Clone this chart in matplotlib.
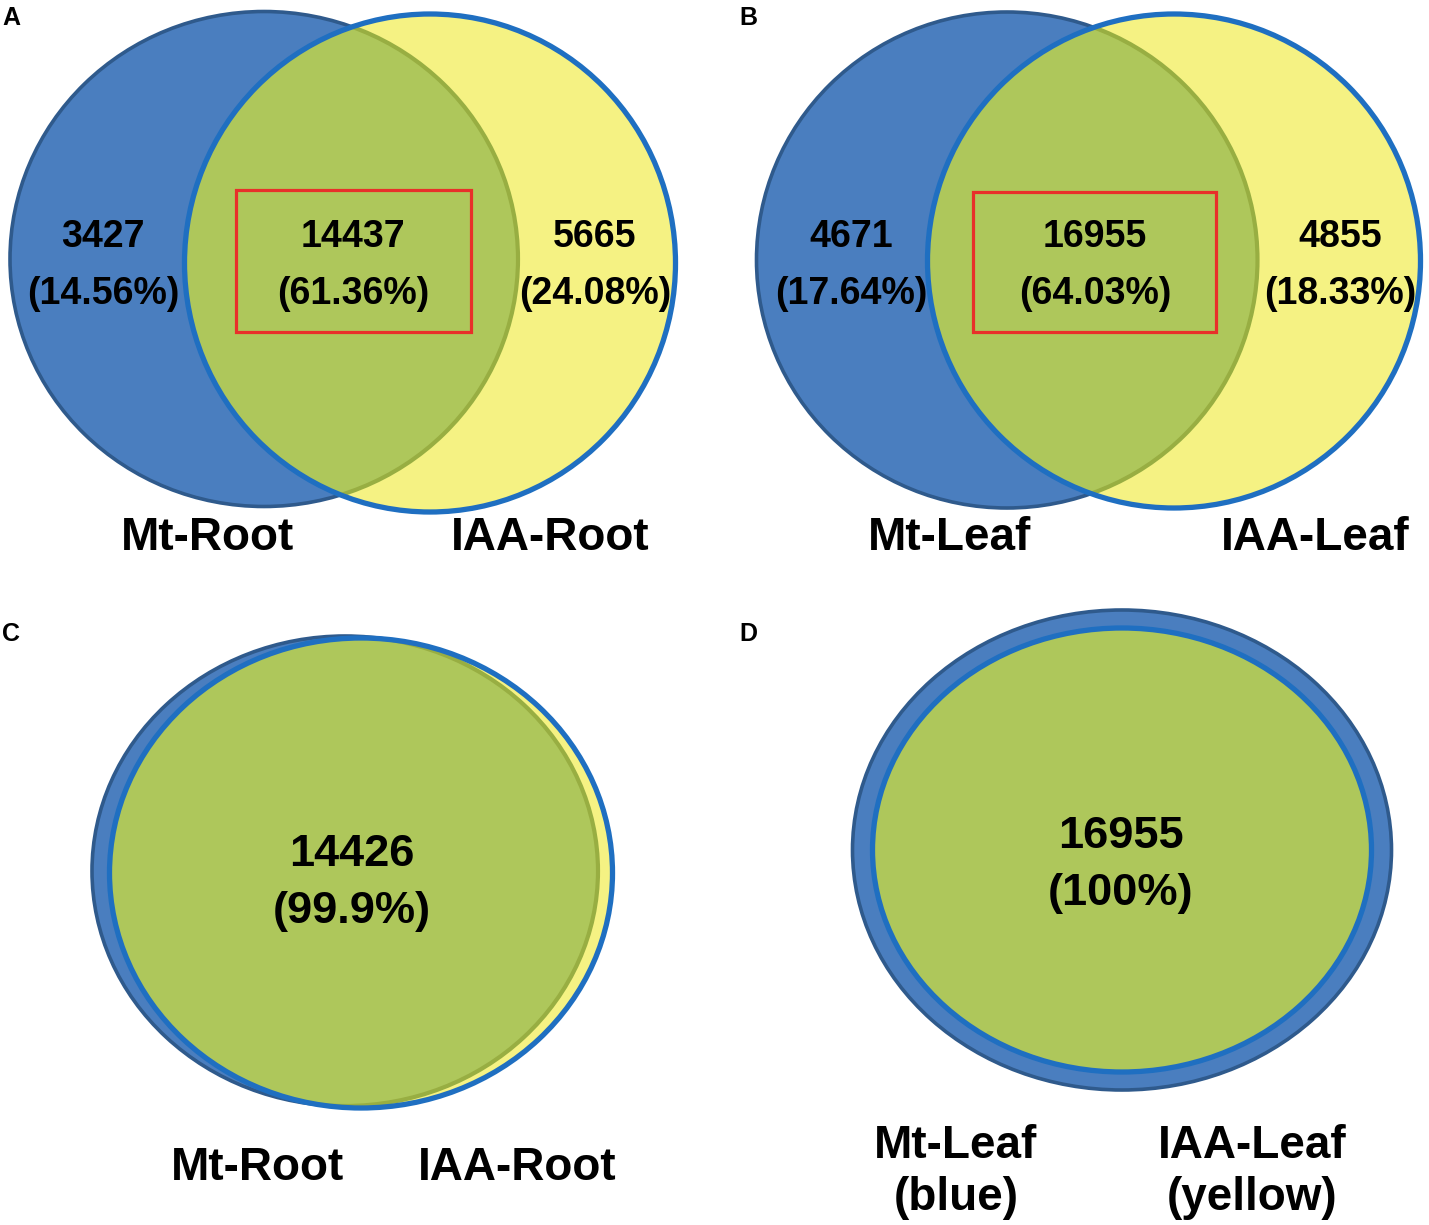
import matplotlib
matplotlib.use("Agg")
import matplotlib.pyplot as plt
from matplotlib.patches import Ellipse, Rectangle
from matplotlib import font_manager

# ---------------- data ----------------
panel_letters = ["A", "B", "C", "D"]
set1_names = ["Mt-Root", "Mt-Leaf", "Mt-Root", "Mt-Leaf\n(blue)"]
set2_names = ["IAA-Root", "IAA-Leaf", "IAA-Root", "IAA-Leaf\n(yellow)"]
unique1_counts = [3427, 4671]
unique1_pct = ["14.56%", "17.64%"]
shared_counts = [14437, 16955, 14426, 16955]
shared_pct = ["61.36%", "64.03%", "99.9%", "100%"]
unique2_counts = [5665, 4855]
unique2_pct = ["24.08%", "18.33%"]

# ---------------- style ----------------
BLUE = "#4a7ebf"
BLUE_EDGE = "#2f5a8c"
YELLOW = "#f5f283"
GREEN = "#aec75b"
OLIVE = "#98ae42"
BRIGHT = "#1f6fc1"
RED = "#e8302a"

W, H = 1429, 1225
fig = plt.figure(figsize=(W / 100, H / 100), dpi=100)
ax = fig.add_axes([0, 0, 1, 1])
ax.set_xlim(0, W)
ax.set_ylim(H, 0)
ax.axis("off")

names = {f.name for f in font_manager.fontManager.ttflist}
if "Liberation Sans Narrow" in names:
    narrow_family = ["Liberation Sans Narrow", "DejaVu Sans"]
    narrow_size = 35
else:
    narrow_family = ["Liberation Sans", "DejaVu Sans"]
    narrow_size = 27
arial = ["Liberation Sans", "DejaVu Sans"]

# layout (pixel geometry of each panel)
geo = [
    # blue ellipse (cx, cy, w, h), yellow ellipse (cx, cy, w, h)
    ((264, 259, 508, 495), (430, 263, 491, 498)),
    ((1007, 260, 501, 496), (1174, 261, 493, 494)),
    ((345, 871, 506, 470), (361, 873, 503, 470)),
    ((1122, 850, 539, 480), (1122, 850, 499, 444)),
]


def venn(bg, yg):
    b = Ellipse(bg[:2], bg[2], bg[3], fc=BLUE, ec=BLUE_EDGE, lw=2.6, zorder=1)
    ax.add_patch(b)
    y = Ellipse(yg[:2], yg[2], yg[3], fc=YELLOW, ec="none", zorder=2)
    ax.add_patch(y)
    clip = Ellipse(yg[:2], yg[2], yg[3], transform=ax.transData)
    g = Ellipse(bg[:2], bg[2], bg[3], fc=GREEN, ec=OLIVE, lw=3.0, zorder=3)
    ax.add_patch(g)
    g.set_clip_path(clip)
    yo = Ellipse(yg[:2], yg[2], yg[3], fc="none", ec=BRIGHT, lw=3.8, zorder=4)
    ax.add_patch(yo)


for g in geo:
    venn(*g)

# red boxes around shared counts (A, B)
for (x0, y0, x1, y1) in [(236, 190, 471, 332), (973, 192, 1216, 332)]:
    ax.add_patch(Rectangle((x0, y0), x1 - x0, y1 - y0, fc="none", ec=RED, lw=2.3, zorder=5))

# numbers in A and B (condensed font)
row1, row2 = 237, 294
xs = [(103, 353, 595), (851, 1095, 1340)]
for i in range(2):
    x_u1, x_s, x_u2 = xs[i]
    for x, c, p in [(x_u1, unique1_counts[i], unique1_pct[i]),
                    (x_s, shared_counts[i], shared_pct[i]),
                    (x_u2, unique2_counts[i], unique2_pct[i])]:
        ax.text(x, row1, f"{c}", ha="center", va="center", family=narrow_family,
                fontsize=narrow_size, fontweight="bold", zorder=6)
        ax.text(x, row2, f"({p})", ha="center", va="center", family=narrow_family,
                fontsize=narrow_size, fontweight="bold", zorder=6)

# numbers in C and D
for i, (x, y1, y2) in zip([2, 3], [(352, 855, 912), (1121, 836, 893)]):
    ax.text(x, y1, f"{shared_counts[i]}", ha="center", va="center", family=arial,
            fontsize=32.5, fontweight="bold", zorder=6)
    ax.text(x, y2, f"({shared_pct[i]})", ha="center", va="center", family=arial,
            fontsize=32.5, fontweight="bold", zorder=6)

# set labels
label_pos = [((208, 538), (550, 538)), ((950, 538), (1315, 538)),
             ((258, 1168), (517, 1168)), ((956, 1172), (1252, 1172))]
for i, ((x1, y1), (x2, y2)) in enumerate(label_pos):
    for x, y, t in [(x1, y1, set1_names[i]), (x2, y2, set2_names[i])]:
        ax.text(x, y, t, ha="center", va="center", family=arial, fontsize=33,
                fontweight="bold", linespacing=1.22, zorder=6)

# panel letters
for t, (x, y) in zip(panel_letters, [(2, 18), (739, 18), (2, 634), (739, 634)]):
    ax.text(x, y, t, ha="left", va="center", family=arial, fontsize=18,
            fontweight="bold")

fig.savefig("out.png", dpi=100)
